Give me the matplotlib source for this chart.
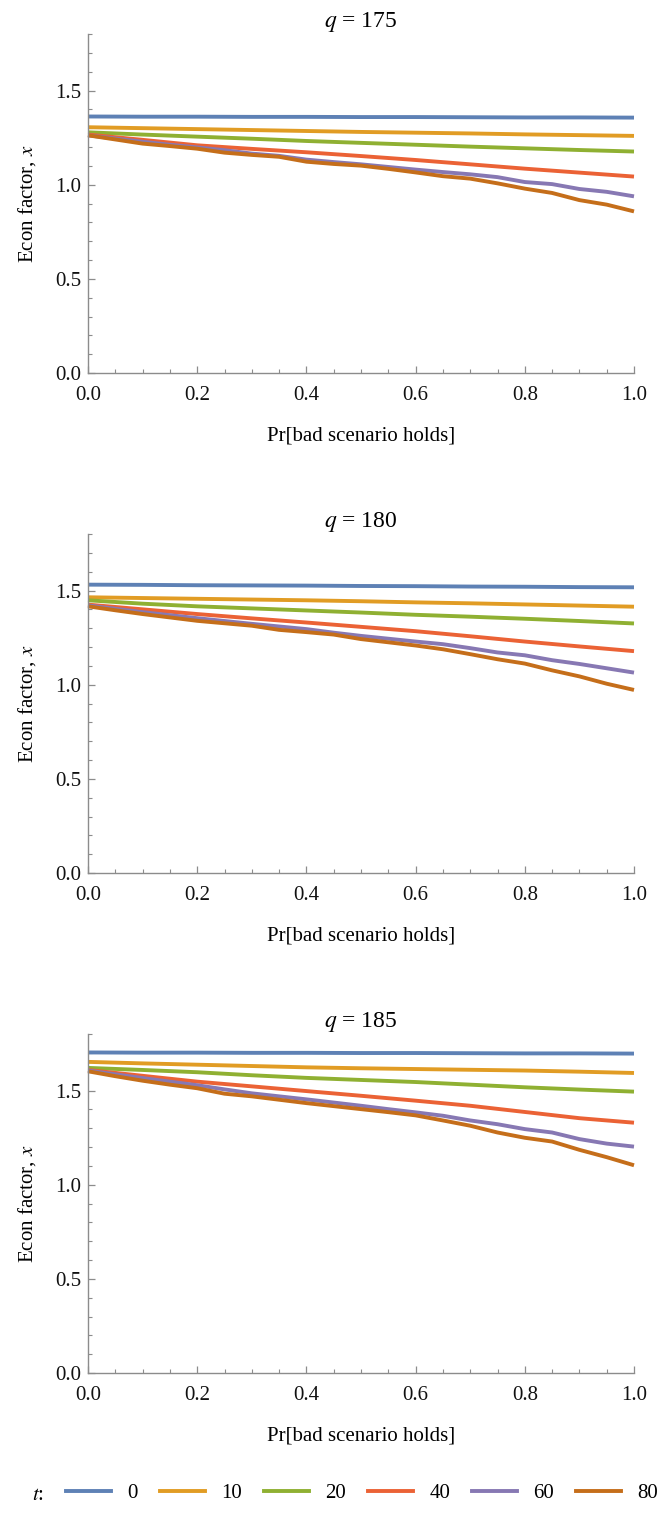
import numpy as np
import matplotlib
matplotlib.use("Agg")
import matplotlib.pyplot as plt
from matplotlib.lines import Line2D
from matplotlib.ticker import MultipleLocator

plt.rcParams['font.family'] = ['Liberation Serif', 'DejaVu Serif']
plt.rcParams['mathtext.fontset'] = 'stix'

# curve data per panel: q value -> one series per t
q_values = [175, 180, 185]
t_values = [0, 10, 20, 40, 60, 80]
colors = ['#5E81B5', '#E19C24', '#8FB032', '#EB6235', '#8778B3', '#C56E1A']

x_coarse = np.linspace(0, 1, 11)
x_fine = np.linspace(0, 1, 21)

# q = 175
q175_t0 = [1.362, 1.361, 1.361, 1.360, 1.360, 1.359, 1.359, 1.358, 1.357, 1.357, 1.356]
q175_t10 = [1.305, 1.300, 1.295, 1.290, 1.285, 1.280, 1.276, 1.272, 1.267, 1.263, 1.259]
q175_t20 = [1.278, 1.266, 1.255, 1.244, 1.232, 1.222, 1.212, 1.202, 1.193, 1.184, 1.176]
q175_t40 = [1.266, 1.238, 1.209, 1.190, 1.172, 1.152, 1.131, 1.108, 1.085, 1.064, 1.043]
q175_t60 = [1.262, 1.245, 1.228, 1.212, 1.198, 1.183, 1.165, 1.153, 1.133, 1.120, 1.108,
            1.094, 1.080, 1.067, 1.055, 1.040, 1.014, 1.003, 0.977, 0.962, 0.938]
q175_t80 = [1.262, 1.240, 1.218, 1.205, 1.191, 1.170, 1.158, 1.148, 1.122, 1.110, 1.101,
            1.084, 1.065, 1.045, 1.032, 1.007, 0.979, 0.956, 0.918, 0.894, 0.858]

# q = 180
q180_t0 = [1.531, 1.530, 1.528, 1.527, 1.526, 1.524, 1.523, 1.521, 1.520, 1.518, 1.517]
q180_t10 = [1.464, 1.460, 1.456, 1.452, 1.448, 1.443, 1.437, 1.432, 1.426, 1.420, 1.414]
q180_t20 = [1.448, 1.430, 1.416, 1.405, 1.394, 1.383, 1.371, 1.361, 1.350, 1.338, 1.325]
q180_t40 = [1.425, 1.400, 1.375, 1.352, 1.330, 1.307, 1.284, 1.257, 1.229, 1.203, 1.178]
q180_t60 = [1.421, 1.403, 1.385, 1.369, 1.353, 1.338, 1.323, 1.309, 1.295, 1.276, 1.259,
            1.244, 1.229, 1.215, 1.194, 1.171, 1.156, 1.130, 1.110, 1.087, 1.064]
q180_t80 = [1.416, 1.395, 1.375, 1.357, 1.339, 1.326, 1.313, 1.291, 1.279, 1.266, 1.242,
            1.225, 1.208, 1.188, 1.162, 1.135, 1.112, 1.076, 1.044, 1.005, 0.972]

# q = 185
q185_t0 = [1.702, 1.701, 1.701, 1.700, 1.700, 1.699, 1.699, 1.698, 1.697, 1.697, 1.696]
q185_t10 = [1.652, 1.644, 1.637, 1.630, 1.623, 1.618, 1.614, 1.610, 1.606, 1.600, 1.593]
q185_t20 = [1.620, 1.609, 1.597, 1.581, 1.567, 1.556, 1.545, 1.531, 1.517, 1.505, 1.494]
q185_t40 = [1.609, 1.578, 1.547, 1.522, 1.497, 1.472, 1.446, 1.419, 1.386, 1.353, 1.329]
q185_t60 = [1.606, 1.586, 1.566, 1.547, 1.528, 1.506, 1.485, 1.469, 1.453, 1.436, 1.419,
            1.401, 1.384, 1.366, 1.341, 1.321, 1.295, 1.277, 1.242, 1.218, 1.202]
q185_t80 = [1.602, 1.576, 1.552, 1.531, 1.512, 1.483, 1.469, 1.451, 1.433, 1.417, 1.401,
            1.385, 1.368, 1.341, 1.313, 1.277, 1.249, 1.229, 1.185, 1.146, 1.103]

panels = [
    [q175_t0, q175_t10, q175_t20, q175_t40, q175_t60, q175_t80],
    [q180_t0, q180_t10, q180_t20, q180_t40, q180_t60, q180_t80],
    [q185_t0, q185_t10, q185_t20, q185_t40, q185_t60, q185_t80],
]

W, H = 671, 1514
fig = plt.figure(figsize=(W / 100, H / 100), dpi=100)

axis_color = '#8c8c8c'
left, right = 88, 634
ax_h = 339
lw = 2.8

for k, (q, series) in enumerate(zip(q_values, panels)):
    y0 = 373 + 500 * k
    ax = fig.add_axes([left / W, 1 - y0 / H, (right - left) / W, ax_h / H])
    for ys, c in zip(series, colors):
        xs = x_fine if len(ys) == len(x_fine) else x_coarse
        ax.plot(xs, ys, color=c, lw=lw, solid_capstyle='butt', clip_on=False)

    ax.set_xlim(0, 1)
    ax.set_ylim(0, 1.8)
    for side in ['top', 'right']:
        ax.spines[side].set_visible(False)
    for side in ['left', 'bottom']:
        ax.spines[side].set_color(axis_color)
        ax.spines[side].set_linewidth(1.0)

    ax.xaxis.set_major_locator(MultipleLocator(0.2))
    ax.xaxis.set_minor_locator(MultipleLocator(0.05))
    ax.yaxis.set_major_locator(MultipleLocator(0.5))
    ax.yaxis.set_minor_locator(MultipleLocator(0.1))
    ax.xaxis.set_major_formatter(plt.FuncFormatter(lambda v, p: f'{v:.1f}'))
    ax.yaxis.set_major_formatter(plt.FuncFormatter(lambda v, p: f'{v:.1f}'))
    ax.tick_params(which='major', direction='in', length=5, width=0.9,
                   color=axis_color, labelsize=15, labelcolor='#111111')
    ax.tick_params(which='minor', direction='in', length=3, width=0.8, color=axis_color)
    ax.tick_params(axis='x', which='major', pad=9)
    ax.tick_params(axis='y', which='major', pad=5)

    ax.set_title(f'$q$ = {q}', fontsize=17, pad=5)
    ax.set_xlabel('Pr[bad scenario holds]', fontsize=15, labelpad=16)
    ax.set_ylabel('Econ factor, $x$', fontsize=15, labelpad=12)

# legend row along the bottom
handles = [Line2D([0], [0], color=c, lw=lw) for c in colors]
fig.text(38 / W, 1 - 1495 / H, '$t$:', fontsize=15, ha='center', va='center')
fig.legend(handles, [str(t) for t in t_values], loc='center left',
           bbox_to_anchor=(66 / W, 1 - 1493 / H), ncol=6, frameon=False,
           fontsize=15, handlelength=2.15, handletextpad=0.8, columnspacing=1.05,
           borderaxespad=0, borderpad=0)

fig.savefig('out.png', dpi=100)
